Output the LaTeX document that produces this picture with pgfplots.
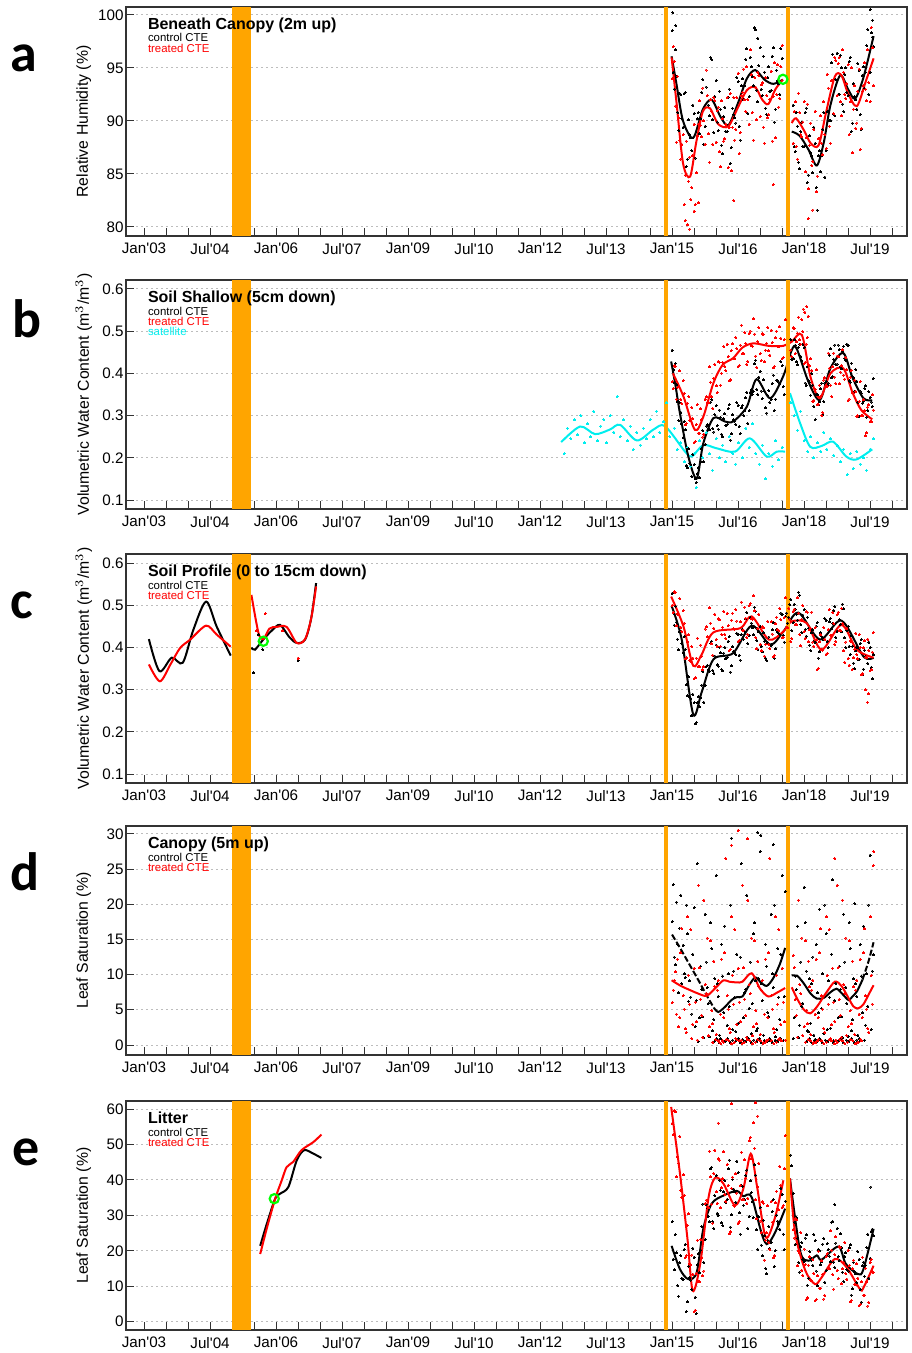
\documentclass[border=0pt]{standalone}
\usepackage{fontspec}
\setmainfont{Liberation Sans}
\newfontfamily\panelfont{Carlito}
\usepackage{pgfplots}
\pgfplotsset{compat=1.18}
\definecolor{trt}{HTML}{FF0000}
\definecolor{sat}{HTML}{00EEEE}
\definecolor{band}{HTML}{FFA500}
\definecolor{gridc}{HTML}{BDBDBD}
\definecolor{ok}{HTML}{00FF00}

\pgfplotsset{
  panel/.style={
    scale only axis, width=390.5pt, height=114.5pt, anchor=north west,
    xmin=2002.59, xmax=2020.34,
    xtick={2003,2004.5,...,2019.5},
    xticklabels={Jan\textquotesingle03,Jul\textquotesingle04,Jan\textquotesingle06,Jul\textquotesingle07,Jan\textquotesingle09,Jul\textquotesingle10,Jan\textquotesingle12,Jul\textquotesingle13,Jan\textquotesingle15,Jul\textquotesingle16,Jan\textquotesingle18,Jul\textquotesingle19},
    minor xtick={2003,2003.5,...,2020},
    tick align=inside, xtick pos=left, ytick pos=left,
    major tick length=4pt, minor tick length=4pt,
    every tick/.style={black!80, line width=0.5pt},
    axis line style={black!80, line width=0.6pt},
    ymajorgrids, major grid style={gridc, line width=0.5pt, dash pattern=on 1pt off 1.5pt},
    tick label style={font=\fontsize{7.6}{9}\selectfont},
    label style={font=\fontsize{7.9}{9}\selectfont},
    /pgf/number format/assume math mode=true,
    yticklabel style={inner xsep=1pt},
    ylabel style={at={(axis description cs:-0.054,0.5)}, anchor=center},
  },
  scat/.style={only marks, mark=*, mark size=0.5pt, mark options={line width=0pt}},
  fit/.style={line width=1pt, smooth, no marks},
}
\newcommand{\band}{%
  \fill[band] ({axis cs:2005,0}|-{rel axis cs:0,0}) rectangle ({axis cs:2005.44,0}|-{rel axis cs:0,1});
  \draw[band, line width=2pt] ({axis cs:2014.86,0}|-{rel axis cs:0,0}) -- ({axis cs:2014.86,0}|-{rel axis cs:0,1});
  \draw[band, line width=2pt] ({axis cs:2017.645,0}|-{rel axis cs:0,0}) -- ({axis cs:2017.645,0}|-{rel axis cs:0,1});
}
\newcommand{\paneltitle}[1]{\node[anchor=base west, inner sep=0pt, font=\bfseries\fontsize{8}{9}\selectfont] at ([xshift=10.8pt,yshift=-11.3pt]rel axis cs:0,1) {#1};}
\newcommand{\legline}[3]{\node[anchor=base west, inner sep=0pt, text=#2, font=\fontsize{5.7}{6}\selectfont] at ([xshift=10.8pt,yshift=-#1]rel axis cs:0,1) {#3};}

\begin{document}
\begin{tikzpicture}
\useasboundingbox (0,0) rectangle (455.5pt,-676.5pt);

% ---------------- a
\begin{axis}[panel, at={(63pt,-3.5pt)}, ymin=79.15, ymax=100.75, ytick={80,85,...,100}, ylabel={Relative Humidity (\%)}]
\addplot[scat, black] coordinates {(2015.00,98.5)(2015.05,93.0)(2015.10,94.2)(2015.15,89.1)(2015.20,92.5)(2015.25,89.4)(2015.30,92.7)(2015.35,86.4)(2015.40,88.7)(2015.45,87.2)(2015.50,90.7)(2015.55,85.1)(2015.60,90.8)(2015.65,90.2)(2015.70,93.9)(2015.75,89.5)(2015.80,92.4)(2015.85,90.5)(2015.90,95.8)(2015.95,88.9)(2016.00,93.8)(2016.05,89.1)(2016.10,91.1)(2016.15,86.9)(2016.20,91.3)(2016.25,89.0)(2016.30,93.0)(2016.35,87.5)(2016.40,90.6)(2016.45,89.8)(2016.50,93.7)(2016.55,88.2)(2016.60,94.0)(2016.65,93.3)(2016.70,96.8)(2016.75,92.3)(2016.80,95.1)(2016.85,93.3)(2016.90,98.6)(2016.95,91.8)(2017.00,96.9)(2017.05,92.4)(2017.10,94.6)(2017.15,90.6)(2017.20,95.1)(2017.25,92.9)(2017.30,96.9)(2017.35,91.1)(2017.40,93.8)(2017.45,92.5)(2017.50,95.9)
(2015.025,94.6)(2015.075,96.7)(2015.125,90.8)(2015.175,92.6)(2015.225,90.2)(2015.275,92.6)(2015.325,85.7)(2015.375,90.1)(2015.425,88.4)(2015.475,91.5)(2015.525,86.5)(2015.575,90.2)(2015.625,88.8)(2015.675,92.7)(2015.725,87.8)(2015.775,93.2)(2015.825,91.5)(2015.875,96.0)(2015.925,90.1)(2015.975,92.3)(2016.025,89.9)(2016.075,92.8)(2016.125,87.7)(2016.175,90.4)(2016.225,89.0)(2016.275,92.2)(2016.325,86.0)(2016.375,91.2)(2016.425,90.3)(2016.475,94.1)(2016.525,89.5)(2016.575,93.3)(2016.625,92.0)(2016.675,95.8)(2016.725,90.7)(2016.775,96.0)(2016.825,94.2)(2016.875,98.8)(2016.925,92.9)(2016.975,95.2)(2017.025,93.0)(2017.075,96.1)(2017.125,91.2)(2017.175,94.1)(2017.225,92.8)(2017.275,96.1)(2017.325,89.9)(2017.375,94.8)(2017.425,93.5)(2017.475,96.8)
(2017.75,91.5)(2017.80,87.1)(2017.85,89.5)(2017.90,85.5)(2017.95,89.9)(2018.00,87.6)(2018.05,91.2)(2018.10,84.9)(2018.15,87.0)(2018.20,85.1)(2018.25,87.9)(2018.30,81.6)(2018.35,87.2)(2018.40,86.7)(2018.45,90.8)(2018.50,87.2)(2018.55,90.9)(2018.60,90.0)(2018.65,96.3)(2018.70,90.5)(2018.75,96.4)(2018.80,92.5)(2018.85,95.0)(2018.90,90.9)(2018.95,95.0)(2019.00,92.4)(2019.05,96.0)(2019.10,89.8)(2019.15,92.3)(2019.20,91.1)(2019.25,94.8)(2019.30,89.2)(2019.35,95.1)(2019.40,94.6)(2019.45,98.6)(2019.50,94.6)(2019.55,97.9)
(2017.775,87.6)(2017.825,90.8)(2017.875,86.1)(2017.925,89.0)(2017.975,87.6)(2018.025,90.8)(2018.075,84.2)(2018.125,88.6)(2018.175,86.7)(2018.225,89.4)(2018.275,83.7)(2018.325,86.7)(2018.375,85.2)(2018.425,89.2)(2018.475,84.7)(2018.525,90.9)(2018.575,90.0)(2018.625,95.5)(2018.675,90.6)(2018.725,93.9)(2018.775,92.5)(2018.825,96.2)(2018.875,91.6)(2018.925,94.4)(2018.975,92.7)(2019.025,95.6)(2019.075,89.0)(2019.125,93.5)(2019.175,92.0)(2019.225,95.4)(2019.275,90.6)(2019.325,94.3)(2019.375,93.1)(2019.425,97.1)(2019.475,92.5)(2019.525,98.3)(2019.575,97.0)
(2015.02,100.2)(2015.08,99.0)(2016.95,97.8)(2019.50,100.5)(2019.56,99.5)};
\addplot[scat, trt] coordinates {(2015.00,94.0)(2015.05,95.6)(2015.10,88.0)(2015.15,90.3)(2015.20,86.4)(2015.25,88.7)(2015.30,84.9)(2015.35,80.2)(2015.40,86.6)(2015.45,83.7)(2015.50,89.7)(2015.55,85.1)(2015.60,89.7)(2015.65,89.6)(2015.70,93.1)(2015.75,87.8)(2015.80,92.4)(2015.85,86.1)(2015.90,90.9)(2015.95,92.2)(2016.00,88.0)(2016.05,91.3)(2016.10,85.7)(2016.15,90.2)(2016.20,88.3)(2016.25,92.2)(2016.30,89.4)(2016.35,85.3)(2016.40,92.2)(2016.45,89.2)(2016.50,94.5)(2016.55,88.9)(2016.60,92.7)(2016.65,92.0)(2016.70,95.1)(2016.75,89.7)(2016.80,94.4)(2016.85,88.2)(2016.90,93.2)(2016.95,94.6)(2017.00,90.4)(2017.05,93.6)(2017.10,87.9)(2017.15,92.4)(2017.20,90.6)(2017.25,94.7)(2017.30,92.3)(2017.35,88.4)(2017.40,95.3)(2017.45,92.1)(2017.50,97.1)
(2015.025,97.0)(2015.075,91.4)(2015.125,94.2)(2015.175,88.2)(2015.225,87.8)(2015.275,82.1)(2015.325,88.1)(2015.375,84.3)(2015.425,82.6)(2015.475,86.7)(2015.525,82.1)(2015.575,88.6)(2015.625,91.9)(2015.675,88.5)(2015.725,90.0)(2015.775,94.8)(2015.825,88.8)(2015.875,92.0)(2015.925,87.8)(2015.975,91.9)(2016.025,91.0)(2016.075,87.1)(2016.125,91.9)(2016.175,88.1)(2016.225,89.7)(2016.275,85.6)(2016.325,92.6)(2016.375,89.4)(2016.425,88.2)(2016.475,92.2)(2016.525,86.9)(2016.575,92.4)(2016.625,94.9)(2016.675,90.9)(2016.725,92.0)(2016.775,96.7)(2016.825,90.8)(2016.875,94.1)(2016.925,90.1)(2016.975,94.3)(2017.025,93.4)(2017.075,89.4)(2017.125,94.1)(2017.175,90.3)(2017.225,92.0)(2017.275,88.1)(2017.325,95.5)(2017.375,92.5)(2017.425,91.3)(2017.475,95.1)
(2017.75,87.9)(2017.80,91.8)(2017.85,86.4)(2017.90,90.8)(2017.95,88.5)(2018.00,91.8)(2018.05,88.4)(2018.10,83.6)(2018.15,89.8)(2018.20,86.2)(2018.25,90.9)(2018.30,84.8)(2018.35,88.3)(2018.40,87.9)(2018.45,91.8)(2018.50,87.4)(2018.55,93.1)(2018.60,87.9)(2018.65,93.8)(2018.70,96.0)(2018.75,92.4)(2018.80,96.0)(2018.85,90.5)(2018.90,94.6)(2018.95,92.1)(2019.00,95.3)(2019.05,91.8)(2019.10,87.0)(2019.15,93.3)(2019.20,89.8)(2019.25,94.9)(2019.30,89.3)(2019.35,93.3)(2019.40,93.0)(2019.45,96.7)(2019.50,91.8)(2019.55,96.9)
(2017.775,90.9)(2017.825,87.6)(2017.875,92.6)(2017.925,88.7)(2017.975,89.9)(2018.025,85.2)(2018.075,91.6)(2018.125,87.7)(2018.175,85.8)(2018.225,89.2)(2018.275,83.3)(2018.325,88.3)(2018.375,90.5)(2018.425,86.8)(2018.475,88.7)(2018.525,94.4)(2018.575,89.5)(2018.625,93.8)(2018.675,90.7)(2018.725,95.7)(2018.775,95.4)(2018.825,91.8)(2018.875,96.7)(2018.925,92.5)(2018.975,93.5)(2019.025,88.7)(2019.075,95.0)(2019.125,91.1)(2019.175,89.3)(2019.225,92.8)(2019.275,87.3)(2019.325,92.8)(2019.375,95.5)(2019.425,91.9)(2019.475,93.6)(2019.525,98.8)(2019.575,93.3)
(2015.30,80.6)(2015.40,79.8)(2015.50,81.5)(2015.60,82.3)(2018.10,80.8)(2018.20,81.6)(2016.40,82.5)(2017.30,84.0)};
\addplot[fit, black] coordinates {(2014.99,96.1)(2015.10,93.5)(2015.25,90.0)(2015.48,88.4)(2015.70,91.1)(2015.90,92.0)(2016.10,90.4)(2016.28,89.6)(2016.50,91.7)(2016.70,94.0)(2016.89,94.8)(2017.10,93.9)(2017.30,93.5)(2017.52,93.9)};
\addplot[fit, black] coordinates {(2017.72,89.0)(2017.90,88.6)(2018.10,87.3)(2018.29,85.8)(2018.45,88.0)(2018.60,91.5)(2018.82,94.3)(2019.00,93.0)(2019.16,92.1)(2019.35,94.1)(2019.58,98.0)};
\addplot[fit, trt] coordinates {(2014.99,96.0)(2015.10,91.8)(2015.25,86.0)(2015.41,84.75)(2015.55,88.0)(2015.70,90.9)(2015.86,91.2)(2016.05,89.7)(2016.28,89.5)(2016.50,91.3)(2016.70,92.9)(2016.89,93.18)(2017.05,92.0)(2017.19,91.6)(2017.35,93.0)(2017.52,93.9)};
\addplot[fit, trt] coordinates {(2017.72,89.8)(2017.82,90.25)(2018.00,89.1)(2018.15,87.9)(2018.33,87.7)(2018.50,90.8)(2018.70,94.2)(2018.85,94.3)(2019.00,92.6)(2019.20,91.4)(2019.40,93.7)(2019.58,95.9)};
\band
\addplot[only marks, mark=o, mark size=2.3pt, ok, line width=1.1pt] coordinates {(2017.52,93.93)};
\paneltitle{Beneath Canopy (2m up)}
\legline{17.4pt}{black}{control CTE}
\legline{22.7pt}{trt}{treated CTE}
\end{axis}

% ---------------- b
\begin{axis}[panel, at={(63pt,-140pt)}, ymin=0.0787, ymax=0.621, ytick={0.1,0.2,...,0.6},
  yticklabel style={/pgf/number format/.cd, fixed, fixed zerofill, precision=1},
  ylabel={Volumetric Water Content (m$^{3}$/m$^{3}$)}]
\addplot[scat, sat] coordinates {(2012.55,0.21)(2012.62,0.27)(2012.70,0.245)(2012.78,0.29)(2012.85,0.255)(2012.93,0.30)(2013.00,0.235)(2013.08,0.28)(2013.15,0.25)(2013.22,0.31)(2013.30,0.24)(2013.38,0.275)(2013.45,0.29)(2013.52,0.235)(2013.60,0.30)(2013.68,0.26)(2013.75,0.345)(2013.82,0.25)(2013.90,0.29)(2013.98,0.24)(2014.05,0.275)(2014.12,0.22)(2014.20,0.26)(2014.28,0.23)(2014.35,0.27)(2014.42,0.245)(2014.50,0.29)(2014.58,0.25)(2014.65,0.31)(2014.72,0.26)(2014.80,0.285)(2014.88,0.33)(2014.95,0.25)(2015.05,0.27)(2015.12,0.22)(2015.20,0.235)(2015.28,0.19)(2015.35,0.225)(2015.42,0.18)(2015.50,0.21)(2015.55,0.13)(2015.62,0.24)(2015.70,0.20)(2015.78,0.26)(2015.85,0.21)(2015.92,0.17)(2016.00,0.245)(2016.08,0.20)(2016.15,0.23)(2016.22,0.19)(2016.30,0.25)(2016.38,0.21)(2016.45,0.185)(2016.52,0.235)(2016.60,0.20)(2016.68,0.27)(2016.75,0.225)(2016.82,0.28)(2016.90,0.21)(2016.98,0.185)(2017.05,0.23)(2017.12,0.15)(2017.20,0.21)(2017.28,0.18)(2017.35,0.24)(2017.42,0.195)(2017.50,0.225)(2017.70,0.33)(2017.78,0.30)(2017.85,0.265)(2017.92,0.31)(2018.00,0.24)(2018.08,0.215)(2018.15,0.25)(2018.22,0.20)(2018.30,0.235)(2018.38,0.215)(2018.45,0.26)(2018.52,0.22)(2018.60,0.245)(2018.68,0.205)(2018.75,0.23)(2018.82,0.19)(2018.90,0.22)(2018.98,0.16)(2019.05,0.21)(2019.12,0.175)(2019.20,0.215)(2019.28,0.185)(2019.35,0.20)(2019.42,0.17)(2019.50,0.22)(2019.58,0.245)};
\addplot[scat, black] coordinates {(2015.00,0.455)(2015.05,0.378)(2015.10,0.373)(2015.15,0.288)(2015.20,0.308)(2015.25,0.248)(2015.30,0.266)(2015.35,0.176)(2015.40,0.187)(2015.45,0.156)(2015.50,0.184)(2015.55,0.142)(2015.60,0.177)(2015.65,0.191)(2015.70,0.264)(2015.75,0.231)(2015.80,0.278)(2015.85,0.266)(2015.90,0.338)(2015.95,0.261)(2016.00,0.323)(2016.05,0.268)(2016.10,0.296)(2016.15,0.250)(2016.20,0.304)(2016.25,0.278)(2016.30,0.326)(2016.35,0.257)(2016.40,0.290)(2016.45,0.279)(2016.50,0.324)(2016.55,0.257)(2016.60,0.324)(2016.65,0.312)(2016.70,0.355)(2016.75,0.311)(2016.80,0.361)(2016.85,0.357)(2016.90,0.431)(2016.95,0.350)(2017.00,0.405)(2017.05,0.340)(2017.10,0.358)(2017.15,0.306)(2017.20,0.359)(2017.25,0.338)(2017.30,0.396)(2017.35,0.339)(2017.40,0.382)(2017.45,0.376)(2017.50,0.418)(2017.55,0.350)
(2015.025,0.408)(2015.075,0.423)(2015.125,0.333)(2015.175,0.330)(2015.225,0.280)(2015.275,0.286)(2015.325,0.182)(2015.375,0.221)(2015.425,0.184)(2015.475,0.207)(2015.525,0.150)(2015.575,0.163)(2015.625,0.153)(2015.675,0.221)(2015.725,0.190)(2015.775,0.275)(2015.825,0.267)(2015.875,0.332)(2015.925,0.269)(2015.975,0.302)(2016.025,0.276)(2016.075,0.313)(2016.125,0.256)(2016.175,0.292)(2016.225,0.276)(2016.275,0.316)(2016.325,0.242)(2016.375,0.302)(2016.425,0.287)(2016.475,0.330)(2016.525,0.274)(2016.575,0.318)(2016.625,0.300)(2016.675,0.342)(2016.725,0.281)(2016.775,0.355)(2016.825,0.350)(2016.875,0.423)(2016.925,0.362)(2016.975,0.391)(2017.025,0.358)(2017.075,0.385)(2017.125,0.318)(2017.175,0.348)(2017.225,0.331)(2017.275,0.376)(2017.325,0.312)(2017.375,0.384)(2017.425,0.379)(2017.475,0.427)(2017.525,0.368)
(2017.70,0.480)(2017.75,0.434)(2017.80,0.467)(2017.85,0.420)(2017.90,0.468)(2017.95,0.430)(2018.00,0.461)(2018.05,0.371)(2018.10,0.382)(2018.15,0.348)(2018.20,0.372)(2018.25,0.290)(2018.30,0.349)(2018.35,0.333)(2018.40,0.377)(2018.45,0.333)(2018.50,0.381)(2018.55,0.377)(2018.60,0.458)(2018.65,0.392)(2018.70,0.467)(2018.75,0.422)(2018.80,0.456)(2018.85,0.411)(2018.90,0.464)(2018.95,0.431)(2019.00,0.466)(2019.05,0.379)(2019.10,0.392)(2019.15,0.358)(2019.20,0.381)(2019.25,0.297)(2019.30,0.353)(2019.35,0.334)(2019.40,0.370)(2019.45,0.312)(2019.50,0.343)(2019.55,0.322)
(2017.725,0.433)(2017.775,0.479)(2017.825,0.427)(2017.875,0.462)(2017.925,0.440)(2017.975,0.468)(2018.025,0.377)(2018.075,0.416)(2018.125,0.379)(2018.175,0.399)(2018.225,0.322)(2018.275,0.351)(2018.325,0.325)(2018.375,0.363)(2018.425,0.303)(2018.475,0.377)(2018.525,0.370)(2018.575,0.443)(2018.625,0.389)(2018.675,0.433)(2018.725,0.420)(2018.775,0.467)(2018.825,0.416)(2018.875,0.453)(2018.925,0.436)(2018.975,0.469)(2019.025,0.382)(2019.075,0.424)(2019.125,0.389)(2019.175,0.409)(2019.225,0.331)(2019.275,0.358)(2019.325,0.329)(2019.375,0.364)(2019.425,0.296)(2019.475,0.356)(2019.525,0.332)(2019.575,0.388)};
\addplot[scat, trt] coordinates {(2015.00,0.380)(2015.05,0.418)(2015.10,0.339)(2015.15,0.368)(2015.20,0.338)(2015.25,0.382)(2015.30,0.278)(2015.35,0.329)(2015.40,0.289)(2015.45,0.319)(2015.50,0.236)(2015.55,0.279)(2015.60,0.258)(2015.65,0.316)(2015.70,0.249)(2015.75,0.339)(2015.80,0.331)(2015.85,0.415)(2015.90,0.344)(2015.95,0.388)(2016.00,0.370)(2016.05,0.428)(2016.10,0.372)(2016.15,0.426)(2016.20,0.416)(2016.25,0.469)(2016.30,0.382)(2016.35,0.454)(2016.40,0.436)(2016.45,0.485)(2016.50,0.416)(2016.55,0.467)(2016.60,0.447)(2016.65,0.497)(2016.70,0.421)(2016.75,0.495)(2016.80,0.465)(2016.85,0.529)(2016.90,0.441)(2016.95,0.475)(2017.00,0.446)(2017.05,0.494)(2017.10,0.427)(2017.15,0.471)(2017.20,0.453)(2017.25,0.502)(2017.30,0.413)(2017.35,0.484)(2017.40,0.464)(2017.45,0.510)(2017.50,0.435)(2017.55,0.480)
(2015.025,0.364)(2015.075,0.416)(2015.125,0.367)(2015.175,0.406)(2015.225,0.328)(2015.275,0.353)(2015.325,0.281)(2015.375,0.345)(2015.425,0.288)(2015.475,0.292)(2015.525,0.238)(2015.575,0.326)(2015.625,0.258)(2015.675,0.290)(2015.725,0.256)(2015.775,0.344)(2015.825,0.330)(2015.875,0.379)(2015.925,0.317)(2015.975,0.421)(2016.025,0.354)(2016.075,0.426)(2016.125,0.400)(2016.175,0.464)(2016.225,0.406)(2016.275,0.440)(2016.325,0.385)(2016.375,0.470)(2016.425,0.435)(2016.475,0.458)(2016.525,0.418)(2016.575,0.514)(2016.625,0.447)(2016.675,0.471)(2016.725,0.428)(2016.775,0.500)(2016.825,0.464)(2016.875,0.493)(2016.925,0.414)(2016.975,0.508)(2017.025,0.430)(2017.075,0.492)(2017.125,0.455)(2017.175,0.509)(2017.225,0.443)(2017.275,0.473)(2017.325,0.416)(2017.375,0.500)(2017.425,0.463)(2017.475,0.483)(2017.525,0.437)(2017.575,0.527)
(2017.70,0.455)(2017.75,0.508)(2017.80,0.447)(2017.85,0.495)(2017.90,0.479)(2017.95,0.527)(2018.00,0.423)(2018.05,0.469)(2018.10,0.419)(2018.15,0.434)(2018.20,0.334)(2018.25,0.361)(2018.30,0.326)(2018.35,0.372)(2018.40,0.300)(2018.45,0.384)(2018.50,0.369)(2018.55,0.448)(2018.60,0.372)(2018.65,0.415)(2018.70,0.391)(2018.75,0.441)(2018.80,0.375)(2018.85,0.418)(2018.90,0.396)(2018.95,0.437)(2019.00,0.336)(2019.05,0.391)(2019.10,0.354)(2019.15,0.384)(2019.20,0.297)(2019.25,0.333)(2019.30,0.299)(2019.35,0.337)(2019.40,0.252)(2019.45,0.320)(2019.50,0.286)(2019.55,0.349)
(2017.725,0.439)(2017.775,0.506)(2017.825,0.475)(2017.875,0.533)(2017.925,0.469)(2017.975,0.498)(2017.98,0.552)(2018.02,0.545)(2018.06,0.558)(2018.09,0.535)(2018.025,0.426)(2018.075,0.485)(2018.125,0.418)(2018.175,0.407)(2018.225,0.336)(2018.275,0.408)(2018.325,0.326)(2018.375,0.346)(2018.425,0.307)(2018.475,0.389)(2018.525,0.368)(2018.575,0.412)(2018.625,0.345)(2018.675,0.448)(2018.725,0.375)(2018.775,0.439)(2018.825,0.403)(2018.875,0.456)(2018.925,0.386)(2018.975,0.408)(2019.025,0.339)(2019.075,0.407)(2019.125,0.353)(2019.175,0.357)(2019.225,0.299)(2019.275,0.380)(2019.325,0.299)(2019.375,0.311)(2019.425,0.259)(2019.475,0.325)(2019.525,0.285)(2019.575,0.313)};
\addplot[fit, sat] coordinates {(2012.48,0.237)(2012.91,0.274)(2013.25,0.256)(2013.59,0.267)(2013.82,0.278)(2014.20,0.241)(2014.58,0.267)(2014.84,0.275)(2015.30,0.214)(2015.45,0.203)(2015.71,0.230)(2016.01,0.2225)(2016.43,0.2145)(2016.77,0.246)(2017.15,0.203)(2017.38,0.2145)(2017.57,0.2145)};
\addplot[fit, sat] coordinates {(2017.68,0.353)(2017.91,0.282)(2018.14,0.226)(2018.40,0.228)(2018.66,0.238)(2018.96,0.203)(2019.19,0.196)(2019.55,0.220)};
\addplot[fit, black] coordinates {(2014.98,0.428)(2015.08,0.37)(2015.18,0.305)(2015.37,0.203)(2015.56,0.151)(2015.71,0.234)(2015.94,0.294)(2016.20,0.286)(2016.39,0.286)(2016.70,0.321)(2016.92,0.386)(2017.23,0.341)(2017.53,0.394)(2017.72,0.455)(2017.83,0.459)(2018.10,0.380)(2018.36,0.337)(2018.60,0.412)(2018.89,0.448)(2019.10,0.390)(2019.35,0.341)(2019.55,0.336)};
\addplot[fit, trt] coordinates {(2015.02,0.400)(2015.26,0.345)(2015.52,0.266)(2015.71,0.297)(2015.94,0.377)(2016.15,0.420)(2016.39,0.436)(2016.60,0.461)(2016.85,0.471)(2017.20,0.465)(2017.53,0.465)(2017.72,0.475)(2017.95,0.491)(2018.15,0.390)(2018.36,0.341)(2018.60,0.400)(2018.89,0.412)(2019.10,0.355)(2019.30,0.313)(2019.55,0.291)};
\band
\paneltitle{Soil Shallow (5cm down)}
\legline{17.6pt}{black}{control CTE}
\legline{22.6pt}{trt}{treated CTE}
\legline{27.6pt}{sat}{satellite}
\end{axis}

% ---------------- c
\begin{axis}[panel, at={(63pt,-277pt)}, ymin=0.0787, ymax=0.622, ytick={0.1,0.2,...,0.6},
  yticklabel style={/pgf/number format/.cd, fixed, fixed zerofill, precision=1},
  ylabel={Volumetric Water Content (m$^{3}$/m$^{3}$)}]
\addplot[scat, black] coordinates {(2015.00,0.529)(2015.05,0.453)(2015.10,0.460)(2015.15,0.395)(2015.20,0.438)(2015.25,0.388)(2015.30,0.396)(2015.35,0.286)(2015.40,0.282)(2015.45,0.238)(2015.50,0.269)(2015.55,0.222)(2015.60,0.284)(2015.65,0.281)(2015.70,0.344)(2015.75,0.311)(2015.80,0.358)(2015.85,0.344)(2015.90,0.415)(2015.95,0.339)(2016.00,0.406)(2016.05,0.356)(2016.10,0.388)(2016.15,0.345)(2016.20,0.401)(2016.25,0.377)(2016.30,0.426)(2016.35,0.357)(2016.40,0.391)(2016.45,0.383)(2016.50,0.432)(2016.55,0.370)(2016.60,0.444)(2016.65,0.438)(2016.70,0.483)(2016.75,0.428)(2016.80,0.458)(2016.85,0.430)(2016.90,0.486)(2016.95,0.396)(2017.00,0.450)(2017.05,0.390)(2017.10,0.415)(2017.15,0.369)(2017.20,0.425)(2017.25,0.404)(2017.30,0.459)(2017.35,0.397)(2017.40,0.437)(2017.45,0.431)(2017.50,0.479)(2017.55,0.413)(2017.60,0.482)(2017.65,0.472)(2017.70,0.514)(2017.75,0.459)(2017.80,0.490)(2017.85,0.465)(2017.90,0.524)(2017.95,0.436)(2018.00,0.490)(2018.05,0.427)(2018.10,0.446)(2018.15,0.393)(2018.20,0.442)(2018.25,0.413)(2018.30,0.459)(2018.35,0.390)(2018.40,0.426)(2018.45,0.418)(2018.50,0.465)(2018.55,0.400)(2018.60,0.469)(2018.65,0.458)(2018.70,0.498)(2018.75,0.439)(2018.80,0.466)(2018.85,0.437)(2018.90,0.492)(2018.95,0.400)(2019.00,0.450)(2019.05,0.384)(2019.10,0.403)(2019.15,0.350)(2019.20,0.400)(2019.25,0.372)(2019.30,0.419)(2019.35,0.349)(2019.40,0.379)(2019.45,0.362)(2019.50,0.400)(2019.55,0.326)
(2015.025,0.482)(2015.075,0.498)(2015.125,0.420)(2015.175,0.437)(2015.225,0.410)(2015.275,0.426)(2015.325,0.312)(2015.375,0.331)(2015.425,0.279)(2015.475,0.289)(2015.525,0.219)(2015.575,0.269)(2015.625,0.260)(2015.675,0.311)(2015.725,0.270)(2015.775,0.355)(2015.825,0.347)(2015.875,0.410)(2015.925,0.346)(2015.975,0.380)(2016.025,0.359)(2016.075,0.401)(2016.125,0.348)(2016.175,0.387)(2016.225,0.373)(2016.275,0.415)(2016.325,0.342)(2016.375,0.402)(2016.425,0.388)(2016.475,0.434)(2016.525,0.382)(2016.575,0.431)(2016.625,0.420)(2016.675,0.468)(2016.725,0.409)(2016.775,0.472)(2016.825,0.447)(2016.875,0.496)(2016.925,0.417)(2016.975,0.437)(2017.025,0.403)(2017.075,0.435)(2017.125,0.375)(2017.175,0.411)(2017.225,0.397)(2017.275,0.442)(2017.325,0.375)(2017.375,0.442)(2017.425,0.434)(2017.475,0.482)(2017.525,0.429)(2017.575,0.474)(2017.625,0.458)(2017.675,0.502)(2017.725,0.440)(2017.775,0.503)(2017.825,0.479)(2017.875,0.531)(2017.925,0.455)(2017.975,0.477)(2018.025,0.443)(2018.075,0.472)(2018.125,0.406)(2018.175,0.435)(2018.225,0.414)(2018.275,0.451)(2018.325,0.375)(2018.375,0.435)(2018.425,0.423)(2018.475,0.469)(2018.525,0.415)(2018.575,0.461)(2018.625,0.445)(2018.675,0.488)(2018.725,0.424)(2018.775,0.483)(2018.825,0.455)(2018.875,0.503)(2018.925,0.423)(2018.975,0.441)(2019.025,0.403)(2019.075,0.429)(2019.125,0.363)(2019.175,0.392)(2019.225,0.372)(2019.275,0.410)(2019.325,0.335)(2019.375,0.394)(2019.425,0.376)(2019.475,0.413)(2019.525,0.353)(2019.575,0.383)
(2005.48,0.34)(2005.60,0.43)(2005.70,0.395)(2006.50,0.37)};
\addplot[scat, trt] coordinates {(2015.00,0.500)(2015.05,0.533)(2015.10,0.452)(2015.15,0.478)(2015.20,0.448)(2015.25,0.487)(2015.30,0.373)(2015.35,0.414)(2015.40,0.369)(2015.45,0.402)(2015.50,0.326)(2015.55,0.375)(2015.60,0.354)(2015.65,0.406)(2015.70,0.347)(2015.75,0.444)(2015.80,0.426)(2015.85,0.494)(2015.90,0.409)(2015.95,0.446)(2016.00,0.419)(2016.05,0.468)(2016.10,0.403)(2016.15,0.448)(2016.20,0.431)(2016.25,0.481)(2016.30,0.393)(2016.35,0.465)(2016.40,0.445)(2016.45,0.490)(2016.50,0.415)(2016.55,0.461)(2016.60,0.441)(2016.65,0.496)(2016.70,0.424)(2016.75,0.499)(2016.80,0.468)(2016.85,0.523)(2016.90,0.424)(2016.95,0.446)(2017.00,0.408)(2017.05,0.449)(2017.10,0.380)(2017.15,0.424)(2017.20,0.408)(2017.25,0.461)(2017.30,0.378)(2017.35,0.456)(2017.40,0.442)(2017.45,0.493)(2017.50,0.423)(2017.55,0.471)(2017.60,0.447)(2017.65,0.493)(2017.70,0.414)(2017.75,0.486)(2017.80,0.455)(2017.85,0.518)(2017.90,0.431)(2017.95,0.466)(2018.00,0.438)(2018.05,0.486)(2018.10,0.414)(2018.15,0.446)(2018.20,0.413)(2018.25,0.447)(2018.30,0.348)(2018.35,0.414)(2018.40,0.395)(2018.45,0.447)(2018.50,0.384)(2018.55,0.443)(2018.60,0.429)(2018.65,0.483)(2018.70,0.407)(2018.75,0.478)(2018.80,0.441)(2018.85,0.493)(2018.90,0.392)(2018.95,0.413)(2019.00,0.374)(2019.05,0.416)(2019.10,0.348)(2019.15,0.396)(2019.20,0.383)(2019.25,0.430)(2019.30,0.335)(2019.35,0.400)(2019.40,0.377)(2019.45,0.420)(2019.50,0.345)(2019.55,0.389)
(2015.025,0.484)(2015.075,0.531)(2015.125,0.480)(2015.175,0.516)(2015.225,0.438)(2015.275,0.458)(2015.325,0.376)(2015.375,0.430)(2015.425,0.368)(2015.475,0.375)(2015.525,0.328)(2015.575,0.422)(2015.625,0.354)(2015.675,0.380)(2015.725,0.354)(2015.775,0.449)(2015.825,0.425)(2015.875,0.458)(2015.925,0.382)(2015.975,0.479)(2016.025,0.403)(2016.075,0.466)(2016.125,0.431)(2016.175,0.486)(2016.225,0.421)(2016.275,0.452)(2016.325,0.396)(2016.375,0.481)(2016.425,0.444)(2016.475,0.463)(2016.525,0.417)(2016.575,0.508)(2016.625,0.441)(2016.675,0.470)(2016.725,0.431)(2016.775,0.504)(2016.825,0.467)(2016.875,0.487)(2016.925,0.397)(2016.975,0.479)(2017.025,0.392)(2017.075,0.447)(2017.125,0.408)(2017.175,0.462)(2017.225,0.398)(2017.275,0.432)(2017.325,0.381)(2017.375,0.472)(2017.425,0.441)(2017.475,0.466)(2017.525,0.425)(2017.575,0.518)(2017.625,0.447)(2017.675,0.467)(2017.725,0.421)(2017.775,0.491)(2017.825,0.454)(2017.875,0.482)(2017.925,0.404)(2017.975,0.499)(2018.025,0.422)(2018.075,0.484)(2018.125,0.442)(2018.175,0.484)(2018.225,0.403)(2018.275,0.418)(2018.325,0.351)(2018.375,0.430)(2018.425,0.394)(2018.475,0.420)(2018.525,0.386)(2018.575,0.490)(2018.625,0.429)(2018.675,0.457)(2018.725,0.414)(2018.775,0.483)(2018.825,0.440)(2018.875,0.457)(2018.925,0.365)(2018.975,0.446)(2019.025,0.358)(2019.075,0.414)(2019.125,0.376)(2019.175,0.434)(2019.225,0.373)(2019.275,0.401)(2019.325,0.338)(2019.375,0.416)(2019.425,0.376)(2019.475,0.393)(2019.525,0.347)(2019.575,0.436)
(2019.40,0.30)(2019.44,0.27)(2019.47,0.29)(2005.55,0.44)(2005.75,0.48)(2006.15,0.44)(2006.50,0.375)};
\addplot[fit, black] coordinates {(2003.11,0.420)(2003.35,0.344)(2003.63,0.376)(2003.88,0.364)(2004.12,0.442)(2004.41,0.509)(2004.65,0.450)(2004.97,0.381)};
\addplot[fit, black] coordinates {(2005.44,0.400)(2005.52,0.395)(2005.71,0.419)(2005.90,0.440)(2006.09,0.454)(2006.30,0.425)(2006.47,0.411)(2006.66,0.419)(2006.80,0.470)(2006.91,0.553)};
\addplot[fit, trt] coordinates {(2003.11,0.360)(2003.36,0.320)(2003.60,0.360)(2003.82,0.399)(2004.05,0.419)(2004.41,0.452)(2004.65,0.431)(2004.97,0.402)};
\addplot[fit, trt] coordinates {(2005.44,0.525)(2005.60,0.435)(2005.71,0.420)(2005.85,0.445)(2006.01,0.449)(2006.24,0.449)(2006.47,0.411)(2006.66,0.420)(2006.80,0.470)(2006.91,0.545)};
\addplot[fit, black] coordinates {(2014.99,0.499)(2015.22,0.419)(2015.48,0.242)(2015.67,0.293)(2015.94,0.372)(2016.39,0.387)(2016.81,0.452)(2017.23,0.407)(2017.53,0.438)(2017.87,0.483)(2018.36,0.419)(2018.85,0.464)(2019.35,0.379)(2019.58,0.376)};
\addplot[fit, trt] coordinates {(2014.98,0.521)(2015.26,0.450)(2015.48,0.357)(2015.67,0.383)(2015.94,0.436)(2016.55,0.446)(2016.81,0.474)(2017.20,0.419)(2017.53,0.438)(2017.72,0.462)(2018.06,0.458)(2018.40,0.395)(2018.85,0.454)(2019.20,0.395)(2019.58,0.376)};
\band
\addplot[only marks, mark=o, mark size=2.3pt, ok, line width=1.1pt] coordinates {(2005.71,0.415)};
\paneltitle{Soil Profile (0 to 15cm down)}
\legline{17.6pt}{black}{control CTE}
\legline{22.6pt}{trt}{treated CTE}
\end{axis}

% ---------------- d
\begin{axis}[panel, at={(63pt,-413pt)}, ymin=-1.42, ymax=31.13, ytick={0,5,...,30}, ylabel={Leaf Saturation (\%)}]
\addplot[scat, black] coordinates {(2015.00,17.5)(2015.05,12.5)(2015.10,20.3)(2015.15,7.4)(2015.20,21.3)(2015.25,14.2)(2015.30,9.6)(2015.35,15.8)(2015.40,9.1)(2015.45,4.4)(2015.50,19.5)(2015.55,6.3)(2015.60,0.5)(2015.65,11.2)(2015.70,4.0)(2015.75,18.6)(2015.80,8.2)(2015.85,1.2)(2015.90,13.7)(2015.95,3.6)(2016.00,24.1)(2016.05,6.9)(2016.10,0.9)(2016.15,9.8)(2016.20,16.9)(2016.25,2.8)(2016.30,5.5)(2016.35,29.4)(2016.40,10.5)(2016.45,1.9)(2016.50,3.1)(2016.55,12.5)(2016.60,0.8)(2016.65,7.4)(2016.70,21.3)(2016.75,5.2)(2016.80,1.6)(2016.85,15.8)(2016.90,9.1)(2016.95,2.4)(2017.00,27.5)(2017.05,6.3)(2017.10,0.5)(2017.15,11.2)(2017.20,4.0)(2017.25,18.6)(2017.30,8.2)(2017.35,1.2)(2017.40,13.7)(2017.45,3.6)(2017.50,24.1)(2017.55,6.9)(2017.75,0.9)(2017.80,9.8)(2017.85,16.9)(2017.90,2.8)(2017.95,5.5)(2018.00,22.4)(2018.05,10.5)(2018.10,1.9)(2018.15,3.1)(2018.20,12.5)(2018.25,0.8)(2018.30,7.4)(2018.35,19.3)(2018.40,5.2)(2018.45,1.6)(2018.50,15.8)(2018.55,9.1)(2018.60,2.4)(2018.65,23.5)(2018.70,6.3)(2018.75,0.5)(2018.80,11.2)(2018.85,4.0)(2018.90,18.6)(2018.95,8.2)(2019.00,1.2)(2019.05,13.7)(2019.10,3.6)(2019.15,20.1)(2019.20,6.9)(2019.25,0.9)(2019.30,9.8)(2019.35,16.9)(2019.40,2.8)(2019.45,5.5)(2019.50,27.0)(2019.55,10.5)
(2015.025,22.8)(2015.075,11.4)(2015.125,14.3)(2015.175,16.6)(2015.225,8.7)(2015.275,10.1)(2015.325,19.9)(2015.375,6.2)(2015.425,6.8)(2015.475,12.9)(2015.525,2.6)(2015.575,25.8)(2015.625,3.9)(2015.675,7.9)(2015.725,1.0)(2015.775,11.8)(2015.825,5.9)(2015.875,17.4)(2015.925,2.0)(2015.975,9.4)(2016.025,8.7)(2016.075,1.4)(2016.125,14.3)(2016.175,4.6)(2016.225,0.7)(2016.275,10.1)(2016.325,19.9)(2016.375,2.2)(2016.425,6.8)(2016.475,12.9)(2016.525,0.6)(2016.575,25.8)(2016.625,3.9)(2016.675,7.9)(2016.725,1.0)(2016.775,11.8)(2016.825,5.9)(2016.875,17.4)(2016.925,2.0)(2016.975,9.4)(2017.025,8.7)(2017.075,1.4)(2017.125,14.3)(2017.175,4.6)(2017.225,0.7)(2017.275,10.1)(2017.325,19.9)(2017.375,2.2)(2017.425,6.8)(2017.475,12.9)(2017.525,0.6)(2017.575,21.8)(2017.775,3.9)(2017.825,7.9)(2017.875,1.0)(2017.925,11.8)(2017.975,5.9)(2018.025,17.4)(2018.075,2.0)(2018.125,9.4)(2018.175,8.7)(2018.225,1.4)(2018.275,14.3)(2018.325,4.6)(2018.375,0.7)(2018.425,10.1)(2018.475,19.9)(2018.525,2.2)(2018.575,6.8)(2018.625,12.9)(2018.675,0.6)(2018.725,8.8)(2018.775,3.9)(2018.825,7.9)(2018.875,1.0)(2018.925,11.8)(2018.975,5.9)(2019.025,17.4)(2019.075,2.0)(2019.125,9.4)(2019.175,8.7)(2019.225,1.4)(2019.275,14.3)(2019.325,4.6)(2019.375,0.7)(2019.425,10.1)(2019.475,19.9)(2019.525,2.2)(2019.575,12.8)
(2016.95,30.2)(2017.02,29.8)(2017.30,28.5)
(2015.96,0.5)(2016.02,0.9)(2016.08,0.3)(2016.14,0.7)(2016.20,0.5)(2016.26,0.9)(2016.32,0.3)(2016.38,0.7)(2016.44,0.5)(2016.50,0.9)(2016.56,0.3)(2016.62,0.7)(2016.68,0.5)(2016.74,0.9)(2016.80,0.3)(2016.86,0.7)(2016.92,0.5)(2016.98,0.9)(2017.04,0.3)(2017.10,0.7)(2017.16,0.5)(2017.22,0.9)(2017.28,0.3)(2017.34,0.7)(2017.40,0.5)(2017.46,0.9)(2018.06,0.5)(2018.12,0.9)(2018.18,0.3)(2018.24,0.7)(2018.30,0.5)(2018.36,0.9)(2018.42,0.3)(2018.48,0.7)(2018.54,0.5)(2018.60,0.9)(2018.66,0.3)(2018.72,0.7)(2018.78,0.5)(2018.84,0.9)(2018.90,0.3)(2018.96,0.7)(2019.02,0.5)(2019.08,0.9)(2019.14,0.3)(2019.20,0.7)(2019.26,0.5)};
\addplot[scat, trt] coordinates {(2015.00,6.0)(2015.05,9.2)(2015.10,4.4)(2015.15,2.6)(2015.20,13.1)(2015.25,7.0)(2015.30,2.3)(2015.35,18.2)(2015.40,5.8)(2015.45,0.9)(2015.50,10.9)(2015.55,3.3)(2015.60,22.7)(2015.65,6.5)(2015.70,1.1)(2015.75,8.6)(2015.80,15.2)(2015.85,2.6)(2015.90,4.9)(2015.95,11.9)(2016.00,1.5)(2016.05,9.2)(2016.10,4.4)(2016.15,0.6)(2016.20,13.1)(2016.25,7.0)(2016.30,2.3)(2016.35,18.2)(2016.40,5.8)(2016.45,0.9)(2016.50,10.9)(2016.55,3.3)(2016.60,22.7)(2016.65,6.5)(2016.70,1.1)(2016.75,8.6)(2016.80,15.2)(2016.85,2.6)(2016.90,4.9)(2016.95,11.9)(2017.00,1.5)(2017.05,9.2)(2017.10,4.4)(2017.15,0.6)(2017.20,13.1)(2017.25,7.0)(2017.30,2.3)(2017.35,18.2)(2017.40,5.8)(2017.45,0.9)(2017.50,10.9)(2017.55,3.3)(2017.75,12.7)(2017.80,6.5)(2017.85,1.1)(2017.90,8.6)(2017.95,15.2)(2018.00,2.6)(2018.05,4.9)(2018.10,11.9)(2018.15,1.5)(2018.20,9.2)(2018.25,4.4)(2018.30,0.6)(2018.35,13.1)(2018.40,7.0)(2018.45,2.3)(2018.50,18.2)(2018.55,5.8)(2018.60,0.9)(2018.65,10.9)(2018.70,3.3)(2018.75,22.7)(2018.80,6.5)(2018.85,1.1)(2018.90,8.6)(2018.95,15.2)(2019.00,2.6)(2019.05,4.9)(2019.10,11.9)(2019.15,1.5)(2019.20,9.2)(2019.25,4.4)(2019.30,0.6)(2019.35,13.1)(2019.40,7.0)(2019.45,2.3)(2019.50,18.2)(2019.55,5.8)
(2015.025,7.8)(2015.075,10.4)(2015.125,12.2)(2015.175,3.9)(2015.225,16.5)(2015.275,5.1)(2015.325,1.8)(2015.375,9.9)(2015.425,16.4)(2015.475,2.9)(2015.525,6.1)(2015.575,0.7)(2015.625,11.0)(2015.675,4.2)(2015.725,20.6)(2015.775,7.3)(2015.825,1.3)(2015.875,14.8)(2015.925,3.0)(2015.975,8.3)(2016.025,7.8)(2016.075,0.4)(2016.125,12.2)(2016.175,3.9)(2016.225,26.5)(2016.275,5.1)(2016.325,1.8)(2016.375,9.9)(2016.425,16.4)(2016.475,2.9)(2016.525,6.1)(2016.575,0.7)(2016.625,11.0)(2016.675,4.2)(2016.725,20.6)(2016.775,7.3)(2016.825,1.3)(2016.875,14.8)(2016.925,3.0)(2016.975,8.3)(2017.025,7.8)(2017.075,0.4)(2017.125,12.2)(2017.175,3.9)(2017.225,26.5)(2017.275,5.1)(2017.325,1.8)(2017.375,9.9)(2017.425,16.4)(2017.475,2.9)(2017.525,6.1)(2017.575,0.7)(2017.775,11.0)(2017.825,4.2)(2017.875,20.6)(2017.925,7.3)(2017.975,1.3)(2018.025,14.8)(2018.075,3.0)(2018.125,8.3)(2018.175,7.8)(2018.225,0.4)(2018.275,12.2)(2018.325,3.9)(2018.375,16.5)(2018.425,5.1)(2018.475,1.8)(2018.525,9.9)(2018.575,16.4)(2018.625,2.9)(2018.675,6.1)(2018.725,0.7)(2018.775,11.0)(2018.825,4.2)(2018.875,20.6)(2018.925,7.3)(2018.975,1.3)(2019.025,14.8)(2019.075,3.0)(2019.125,8.3)(2019.175,7.8)(2019.225,0.4)(2019.275,12.2)(2019.325,3.9)(2019.375,16.5)(2019.425,5.1)(2019.475,1.8)(2019.525,9.9)(2019.575,25.5)
(2016.50,30.5)(2016.35,28.4)(2016.72,29.3)(2018.70,26.5)(2019.58,27.5)
(2015.93,0.4)(2015.99,0.8)(2016.05,0.6)(2016.11,0.2)(2016.17,0.4)(2016.23,0.8)(2016.29,0.6)(2016.35,0.2)(2016.41,0.4)(2016.47,0.8)(2016.53,0.6)(2016.59,0.2)(2016.65,0.4)(2016.71,0.8)(2016.77,0.6)(2016.83,0.2)(2016.89,0.4)(2016.95,0.8)(2017.01,0.6)(2017.07,0.2)(2017.13,0.4)(2017.19,0.8)(2017.25,0.6)(2017.31,0.2)(2017.37,0.4)(2017.43,0.8)(2017.49,0.6)(2018.03,0.4)(2018.09,0.8)(2018.15,0.6)(2018.21,0.2)(2018.27,0.4)(2018.33,0.8)(2018.39,0.6)(2018.45,0.2)(2018.51,0.4)(2018.57,0.8)(2018.63,0.6)(2018.69,0.2)(2018.75,0.4)(2018.81,0.8)(2018.87,0.6)(2018.93,0.2)(2018.99,0.4)(2019.05,0.8)(2019.11,0.6)(2019.17,0.2)(2019.23,0.4)(2019.29,0.8)};
\addplot[fit, black, dash pattern=on 3pt off 1.2pt] coordinates {(2015.00,15.7)(2015.20,13.6)(2015.40,11.4)(2015.60,9.2)(2015.80,6.9)(2015.95,5.3)};
\addplot[fit, black] coordinates {(2015.95,5.3)(2016.05,4.7)(2016.20,5.4)(2016.35,6.4)(2016.47,6.8)(2016.60,6.9)(2016.75,8.5)(2016.89,9.6)(2017.00,9.0)(2017.15,8.4)(2017.30,9.5)(2017.45,11.5)(2017.57,13.8)};
\addplot[fit, black] coordinates {(2017.72,9.9)(2017.85,9.8)(2018.00,8.7)(2018.15,7.3)(2018.29,6.6)(2018.45,6.7)(2018.60,7.5)(2018.74,8.0)(2018.88,7.2)(2019.01,6.4)(2019.10,6.9)(2019.20,7.6)(2019.33,9.3)};
\addplot[fit, black, dash pattern=on 3pt off 1.2pt] coordinates {(2019.33,9.3)(2019.47,12.0)(2019.58,14.6)};
\addplot[fit, trt] coordinates {(2014.99,9.2)(2015.20,8.4)(2015.41,7.8)(2015.60,7.3)(2015.79,7.0)(2016.00,8.2)(2016.17,9.2)(2016.30,9.0)(2016.47,8.9)(2016.60,9.0)(2016.81,10.2)(2017.00,8.0)(2017.19,6.9)(2017.40,7.5)(2017.57,8.1)};
\addplot[fit, trt] coordinates {(2017.72,8.2)(2017.85,6.5)(2018.00,5.0)(2018.14,4.5)(2018.30,5.5)(2018.50,7.4)(2018.70,9.0)(2018.85,8.4)(2019.00,6.8)(2019.12,5.5)(2019.23,5.2)(2019.35,5.8)(2019.47,7.2)(2019.58,8.5)};
\band
\paneltitle{Canopy (5m up)}
\legline{17.6pt}{black}{control CTE}
\legline{22.6pt}{trt}{treated CTE}
\end{axis}

% ---------------- e
\begin{axis}[panel, at={(63pt,-550.5pt)}, ymin=-2.35, ymax=62.27, ytick={0,10,...,60}, ylabel={Leaf Saturation (\%)}]
\addplot[scat, black] coordinates {(2015.00,28.2)(2015.05,14.6)(2015.10,19.4)(2015.15,7.2)(2015.20,18.6)(2015.25,11.8)(2015.30,21.8)(2015.35,5.6)(2015.40,12.5)(2015.45,9.1)(2015.50,18.2)(2015.55,2.3)(2015.60,19.2)(2015.65,20.2)(2015.70,33.2)(2015.75,23.1)(2015.80,32.2)(2015.85,28.2)(2015.90,43.6)(2015.95,26.3)(2016.00,41.2)(2016.05,29.9)(2016.10,37.1)(2016.15,27.1)(2016.20,39.9)(2016.25,34.5)(2016.30,45.6)(2016.35,30.2)(2016.40,37.4)(2016.45,33.7)(2016.50,42.0)(2016.55,24.7)(2016.60,38.2)(2016.65,34.5)(2016.70,42.8)(2016.75,29.7)(2016.80,36.4)(2016.85,29.4)(2016.90,41.3)(2016.95,20.4)(2017.00,32.2)(2017.05,18.6)(2017.10,24.2)(2017.15,13.5)(2017.20,26.9)(2017.25,22.4)(2017.30,34.5)(2017.35,20.1)(2017.40,28.4)(2017.45,26.1)(2017.50,36.0)(2017.55,20.3)
(2017.75,36.1)(2017.80,21.8)(2017.85,23.6)(2017.90,14.0)(2017.95,22.3)(2018.00,17.1)(2018.05,24.5)(2018.10,12.3)(2018.15,18.0)(2018.20,15.9)(2018.25,22.8)(2018.30,10.1)(2018.35,20.0)(2018.40,16.9)(2018.45,23.5)(2018.50,14.4)(2018.55,20.4)(2018.60,16.9)(2018.65,28.3)(2018.70,15.3)(2018.75,26.3)(2018.80,17.3)(2018.85,20.9)(2018.90,11.3)(2018.95,19.4)(2019.00,14.3)(2019.05,21.7)(2019.10,9.3)(2019.15,14.1)(2019.20,11.0)(2019.25,17.6)(2019.30,5.5)(2019.35,16.8)(2019.40,15.9)(2019.45,24.7)(2019.50,17.9)(2019.55,26.1)
(2015.025,17.6)(2015.075,24.6)(2015.125,10.2)(2015.175,16.7)(2015.225,12.3)(2015.275,20.4)(2015.325,2.9)(2015.375,15.6)(2015.425,11.7)(2015.475,20.7)(2015.525,6.9)(2015.575,16.0)(2015.625,13.8)(2015.675,26.9)(2015.725,16.7)(2015.775,33.1)(2015.825,29.7)(2015.875,43.1)(2015.925,28.2)(2015.975,35.5)(2016.025,30.6)(2016.075,39.9)(2016.125,27.9)(2016.175,36.6)(2016.225,33.6)(2016.275,43.1)(2016.325,26.7)(2016.375,40.2)(2016.425,36.6)(2016.475,45.3)(2016.525,30.7)(2016.575,38.4)(2016.625,32.8)(2016.675,41.2)(2016.725,26.3)(2016.775,39.7)(2016.825,33.9)(2016.875,44.3)(2016.925,25.9)(2016.975,29.6)(2017.025,21.6)(2017.075,28.6)(2017.125,15.0)(2017.175,23.0)(2017.225,20.6)(2017.275,31.0)(2017.325,15.6)(2017.375,30.1)(2017.425,27.6)(2017.475,37.7)(2017.525,24.7)(2017.575,34.0)
(2017.775,28.1)(2017.825,29.3)(2017.875,16.7)(2017.925,21.1)(2017.975,17.5)(2018.025,23.6)(2018.075,10.3)(2018.125,19.8)(2018.175,17.4)(2018.225,24.6)(2018.275,14.3)(2018.325,20.4)(2018.375,16.0)(2018.425,21.9)(2018.475,11.1)(2018.525,22.0)(2018.575,18.5)(2018.625,28.1)(2018.675,16.8)(2018.725,22.2)(2018.775,18.3)(2018.825,24.8)(2018.875,14.0)(2018.925,18.4)(2018.975,14.6)(2019.025,20.8)(2019.075,7.5)(2019.125,16.8)(2019.175,13.5)(2019.225,19.7)(2019.275,9.1)(2019.325,15.8)(2019.375,12.8)(2019.425,20.9)(2019.475,12.3)(2019.525,25.5)(2019.575,24.2)
(2017.70,47.0)(2017.72,44.0)(2019.52,38.0)(2018.70,33.0)};
\addplot[scat, trt] coordinates {(2015.00,56.0)(2015.05,59.6)(2015.10,40.9)(2015.15,44.7)(2015.20,37.1)(2015.25,41.4)(2015.30,18.1)(2015.35,27.2)(2015.40,16.3)(2015.45,18.8)(2015.50,2.8)(2015.55,13.6)(2015.60,11.2)(2015.65,23.2)(2015.70,12.9)(2015.75,33.3)(2015.80,32.3)(2015.85,48.1)(2015.90,33.2)(2015.95,41.8)(2016.00,36.6)(2016.05,46.0)(2016.10,32.2)(2016.15,40.3)(2016.20,35.9)(2016.25,44.3)(2016.30,24.8)(2016.35,37.6)(2016.40,32.8)(2016.45,41.7)(2016.50,27.8)(2016.55,38.4)(2016.60,34.4)(2016.65,45.7)(2016.70,33.4)(2016.75,51.0)(2016.80,46.1)(2016.85,56.1)(2016.90,34.4)(2016.95,38.1)(2017.00,28.4)(2017.05,33.8)(2017.10,17.4)(2017.15,25.1)(2017.20,22.4)(2017.25,33.9)(2017.30,18.0)(2017.35,33.6)(2017.40,31.8)(2017.45,43.8)(2017.50,32.3)(2017.55,43.1)
(2017.75,26.0)(2017.80,29.0)(2017.85,15.8)(2017.90,19.4)(2017.95,14.5)(2018.00,20.5)(2018.05,6.3)(2018.10,15.9)(2018.15,11.6)(2018.20,17.6)(2018.25,5.9)(2018.30,12.9)(2018.35,9.5)(2018.40,17.2)(2018.45,6.4)(2018.50,18.4)(2018.55,15.1)(2018.60,25.6)(2018.65,13.3)(2018.70,18.9)(2018.75,14.5)(2018.80,21.2)(2018.85,10.7)(2018.90,16.7)(2018.95,13.5)(2019.00,20.2)(2019.05,5.6)(2019.10,14.9)(2019.15,10.5)(2019.20,16.3)(2019.25,4.5)(2019.30,11.2)(2019.35,7.5)(2019.40,15.1)(2019.45,4.4)(2019.50,16.8)(2019.55,14.1)
(2015.025,52.8)(2015.075,59.2)(2015.125,46.5)(2015.175,52.3)(2015.225,35.1)(2015.275,35.6)(2015.325,18.7)(2015.375,30.4)(2015.425,16.1)(2015.475,13.4)(2015.525,3.2)(2015.575,23.0)(2015.625,11.2)(2015.675,18.0)(2015.725,14.3)(2015.775,34.3)(2015.825,32.1)(2015.875,40.9)(2015.925,27.8)(2015.975,48.4)(2016.025,33.4)(2016.075,45.6)(2016.125,37.8)(2016.175,47.9)(2016.225,33.9)(2016.275,38.5)(2016.325,25.4)(2016.375,40.8)(2016.425,32.6)(2016.475,36.3)(2016.525,28.2)(2016.575,47.8)(2016.625,34.4)(2016.675,40.5)(2016.725,34.8)(2016.775,52.0)(2016.825,45.9)(2016.875,48.9)(2016.925,29.0)(2016.975,44.7)(2017.025,25.2)(2017.075,33.4)(2017.125,23.0)(2017.175,32.7)(2017.225,20.4)(2017.275,28.1)(2017.325,18.6)(2017.375,36.8)(2017.425,31.6)(2017.475,38.4)(2017.525,32.7)(2017.575,52.5)
(2017.775,23.6)(2017.825,28.7)(2017.875,20.0)(2017.925,25.1)(2017.975,13.0)(2018.025,16.1)(2018.075,6.7)(2018.125,18.3)(2018.175,11.5)(2018.225,13.6)(2018.275,6.2)(2018.325,19.9)(2018.375,9.5)(2018.425,13.3)(2018.475,7.4)(2018.525,19.2)(2018.575,14.9)(2018.625,20.2)(2018.675,9.2)(2018.725,23.9)(2018.775,12.1)(2018.825,20.9)(2018.875,14.9)(2018.925,22.4)(2018.975,12.0)(2019.025,15.8)(2019.075,6.0)(2019.125,17.3)(2019.175,10.4)(2019.225,12.3)(2019.275,4.8)(2019.325,18.2)(2019.375,7.5)(2019.425,11.2)(2019.475,5.4)(2019.525,17.6)(2019.575,13.9)
(2016.35,61.5)(2016.90,61.8)(2016.95,58.0)(2016.05,56.0)};
\addplot[fit, black] coordinates {(2005.64,21.4)(2005.79,27.6)(2005.98,34.7)(2006.09,36.1)(2006.28,38.0)(2006.47,45.5)(2006.64,48.4)(2006.85,47.4)(2007.03,46.2)};
\addplot[fit, trt] coordinates {(2005.64,19.1)(2005.80,26.8)(2005.98,34.7)(2006.13,39.9)(2006.24,43.6)(2006.39,45.1)(2006.58,48.4)(2006.85,50.7)(2007.03,52.8)};
\addplot[fit, black] coordinates {(2014.99,21.4)(2015.18,14.8)(2015.37,12.0)(2015.56,13.9)(2015.71,26.2)(2015.90,33.3)(2016.17,35.6)(2016.47,36.9)(2016.62,35.4)(2016.81,35.1)(2017.15,21.9)(2017.57,31.9)};
\addplot[fit, black] coordinates {(2017.68,40.4)(2017.91,20.0)(2018.10,17.2)(2018.29,18.7)(2018.40,17.5)(2018.78,21.2)(2018.95,16.3)(2019.23,13.4)(2019.35,14.8)(2019.58,26.2)};
\addplot[fit, trt] coordinates {(2014.98,60.6)(2015.18,41.8)(2015.35,23.4)(2015.47,8.7)(2015.64,16.3)(2015.83,35.1)(2015.98,40.6)(2016.17,38.9)(2016.43,32.8)(2016.62,37.5)(2016.79,47.4)(2016.94,37.5)(2017.13,23.8)(2017.34,29.4)(2017.53,39.9)};
\addplot[fit, trt] coordinates {(2017.68,40.4)(2017.80,24.8)(2018.03,14.4)(2018.25,10.6)(2018.40,12.5)(2018.70,17.7)(2018.97,15.3)(2019.27,9.2)(2019.35,9.6)(2019.58,15.8)};
\band
\addplot[only marks, mark=o, mark size=2.3pt, ok, line width=1.1pt] coordinates {(2005.96,34.7)};
\paneltitle{Litter}
\legline{17.6pt}{black}{control CTE}
\legline{22.6pt}{trt}{treated CTE}
\end{axis}

% panel letters
\begin{scope}[every node/.style={anchor=base west, inner sep=0pt, font=\panelfont\bfseries\fontsize{27}{27}\selectfont}]
\node at (5pt,-36pt) {a};
\node at (6pt,-168.5pt) {b};
\node at (5pt,-309pt) {c};
\node at (5pt,-445pt) {d};
\node at (6pt,-582.5pt) {e};
\end{scope}
\end{tikzpicture}
\end{document}
